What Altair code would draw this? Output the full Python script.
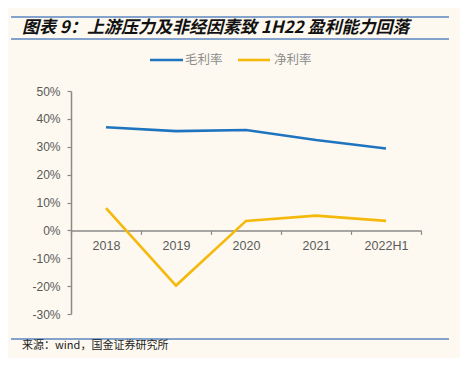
import altair as alt
import pandas as pd

years = ["2018", "2019", "2020", "2021", "2022H1"]
gross_margin = [37.0, 35.6, 36.0, 32.4, 29.4]
net_margin = [8.0, -19.8, 3.4, 5.3, 3.4]
series_names = ["毛利率", "净利率"]
series_colors = ["#1f74c0", "#f5b90c"]
y_ticks = [-30, -20, -10, 0, 10, 20, 30, 40, 50]

title_text = "图表 9：上游压力及非经因素致 1H22 盈利能力回落"
source_text = "来源：wind，国金证券研究所"

rows = []
for name, vals in zip(series_names, [gross_margin, net_margin]):
    for yr, v in zip(years, vals):
        rows.append({"year": yr, "series": name, "value": v})
df = pd.DataFrame(rows)

W, H = 350, 223
BG = "#fdf9f0"
LINE_BLUE = "#5a86c2"

lines = alt.Chart(df).mark_line(strokeWidth=2.6).encode(
    x=alt.X("year:N", sort=years,
            scale=alt.Scale(type="band", paddingInner=0, paddingOuter=0),
            axis=alt.Axis(title=None, labelAngle=0, tickBand="extent",
                          offset=-H * 30 / 80, tickSize=4, labelPadding=5,
                          labelFontSize=12.5, labelColor="#595959",
                          labelFont="Liberation Sans", domainColor="#8a8a8a",
                          tickColor="#8a8a8a", domainWidth=1.5, tickWidth=1.2)),
    y=alt.Y("value:Q", scale=alt.Scale(domain=[-30, 50], nice=False, zero=False),
            axis=alt.Axis(title=None, values=y_ticks, labelExpr="datum.value + '%'",
                          grid=False, tickSize=4, labelPadding=7,
                          labelFontSize=12, labelColor="#595959",
                          labelFont="Liberation Sans", domainColor="#8a8a8a",
                          tickColor="#8a8a8a", domainWidth=1.5, tickWidth=1.2)),
    color=alt.Color("series:N", sort=series_names,
                    scale=alt.Scale(domain=series_names, range=series_colors),
                    legend=None),
)

one = pd.DataFrame({"a": [0]})

def hrule(x1, x2, y, color, w):
    return alt.Chart(one).mark_rule(color=color, strokeWidth=w).encode(
        x=alt.value(x1), x2=alt.value(x2), y=alt.value(y))

def label(x, y, txt, size, color, weight="normal", style="normal", font="Noto Sans CJK SC"):
    return alt.Chart(one).mark_text(align="left", baseline="middle", fontSize=size,
                                    color=color, fontWeight=weight, fontStyle=style,
                                    font=font, text=txt).encode(
        x=alt.value(x), y=alt.value(y))

decor = [
    hrule(-60, 378, -74, LINE_BLUE, 1.5),
    hrule(-60, 378, -52, LINE_BLUE, 1.5),
    hrule(-60, 378, 248, LINE_BLUE, 1.5),
    label(-49, -63, title_text, 17, "#111111", weight="bold", style="italic"),
    hrule(79, 112, -31, series_colors[0], 2.6),
    label(114, -31, series_names[0], 12.5, "#8c8c8c"),
    hrule(167, 199, -31, series_colors[1], 2.6),
    label(203, -31, series_names[1], 12.5, "#8c8c8c"),
    label(-49, 255, source_text, 11, "#222222"),
]

chart = alt.layer(lines, *decor).properties(
    width=W, height=H,
    autosize=alt.AutoSizeParams(type="none"),
    padding={"left": 63, "top": 83, "right": 39, "bottom": 44},
    background=BG,
).configure_view(stroke=None)

chart.save("out.html", embed_options={"renderer": "svg", "actions": False})
